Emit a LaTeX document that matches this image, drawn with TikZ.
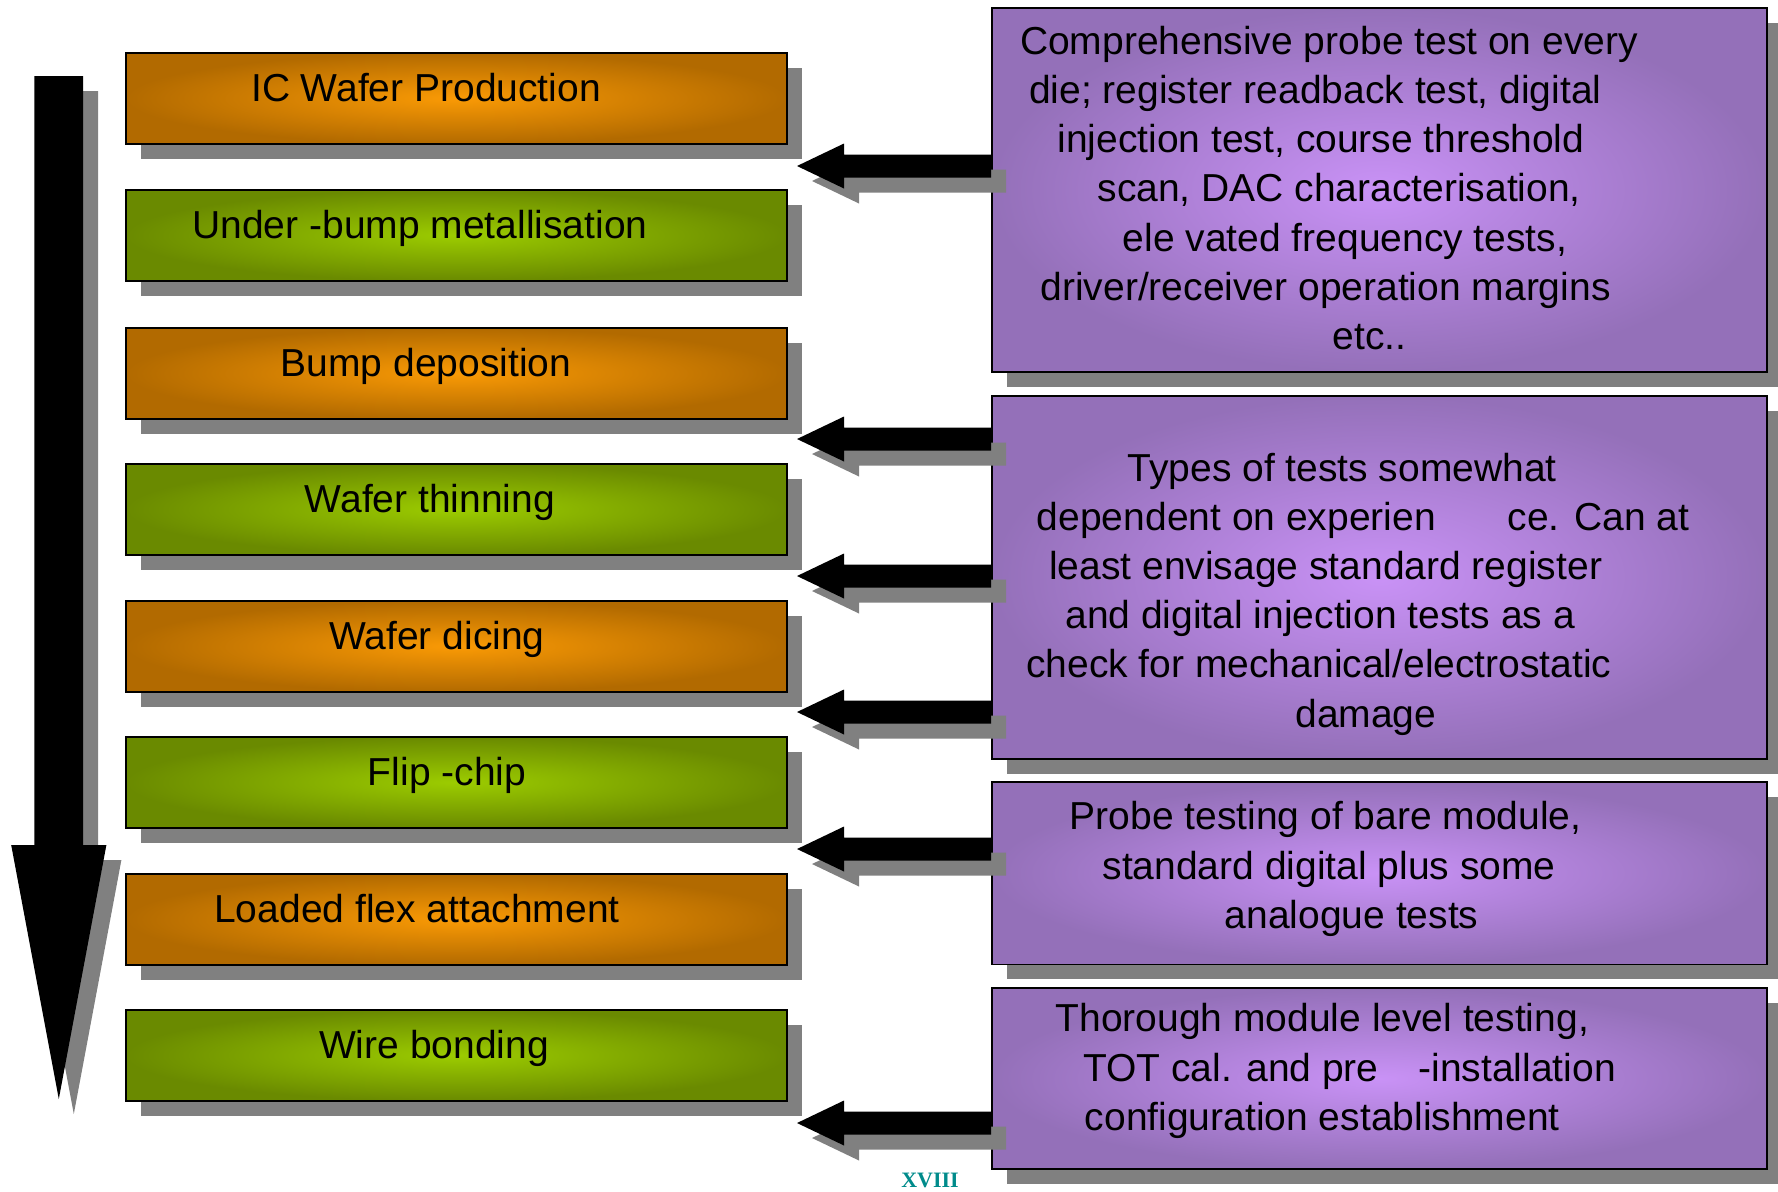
\documentclass[tikz,border=0pt]{standalone}
\usepackage{fontspec}
\setmainfont{Liberation Sans}
\newfontfamily\romanfont{Liberation Serif}
\usetikzlibrary{calc,shadows}
\definecolor{orEdge}{HTML}{B26A00}
\definecolor{orMid}{HTML}{FA9A05}
\definecolor{grEdge}{HTML}{6A8A00}
\definecolor{grMid}{HTML}{9CCC00}
\definecolor{puEdge}{HTML}{9470B9}
\definecolor{puMid}{HTML}{C992F6}
\definecolor{shadowgray}{HTML}{808080}
\definecolor{tealnum}{HTML}{008B8B}
\tikzset{
  boxshadow/.style={drop shadow={shadow xshift=7.5pt, shadow yshift=-7.5pt, fill=shadowgray, opacity=1}},
  stepbox/.style={draw=black, line width=0.75pt, minimum width=330.5pt, minimum height=45.5pt,
    inner sep=0pt, anchor=north west, boxshadow},
  orangebox/.style={stepbox, shading=radial, inner color=orMid, outer color=orEdge},
  greenbox/.style={stepbox, shading=radial, inner color=grMid, outer color=grEdge},
  testbox/.style={draw=black, line width=0.75pt, minimum width=387.5pt, inner sep=0pt,
    anchor=north west, boxshadow, shading=radial, inner color=puMid, outer color=puEdge},
  steptext/.style={font=\fontsize{19.5pt}{24.6pt}\selectfont, inner sep=0pt, anchor=base},
  testtext/.style={font=\fontsize{19.5pt}{24.6pt}\selectfont, inner sep=0pt, align=center},
  arrowbody/.style={fill=black},
  arrowshadow/.style={fill=shadowgray, transform canvas={shift={(7.5pt,-7.5pt)}}},
  pagenum/.style={font=\romanfont\bfseries\fontsize{11pt}{12pt}\selectfont, text=tealnum, inner sep=0pt}
}
% block arrow pointing left: #1 = start (at the box), #2 = tip
\newcommand\blockarr[2]{%
  \fill[arrowshadow] let \p1=(#1), \p2=(#2) in
    (\x1,\y1+5.75pt) -- (\x2+23.5pt,\y1+5.75pt) -- (\x2+23.5pt,\y2+11.25pt) -- (\x2,\y2)
    -- (\x2+23.5pt,\y2-11.25pt) -- (\x2+23.5pt,\y1-5.75pt) -- (\x1,\y1-5.75pt) -- cycle;
  \fill[arrowbody] let \p1=(#1), \p2=(#2) in
    (\x1,\y1+5.75pt) -- (\x2+23.5pt,\y1+5.75pt) -- (\x2+23.5pt,\y2+11.25pt) -- (\x2,\y2)
    -- (\x2+23.5pt,\y2-11.25pt) -- (\x2+23.5pt,\y1-5.75pt) -- (\x1,\y1-5.75pt) -- cycle;
}
% big downward arrow: #1 = top, #2 = tip
\newcommand\bigdownarr[2]{%
  \fill[arrowshadow] let \p1=(#1), \p2=(#2) in
    (\x1-12.2pt,\y1) -- (\x1+12.2pt,\y1) -- (\x1+12.2pt,\y2+127pt) -- (\x1+23.8pt,\y2+127pt)
    -- (\x2,\y2) -- (\x1-23.8pt,\y2+127pt) -- (\x1-12.2pt,\y2+127pt) -- cycle;
  \fill[arrowbody] let \p1=(#1), \p2=(#2) in
    (\x1-12.2pt,\y1) -- (\x1+12.2pt,\y1) -- (\x1+12.2pt,\y2+127pt) -- (\x1+23.8pt,\y2+127pt)
    -- (\x2,\y2) -- (\x1-23.8pt,\y2+127pt) -- (\x1-12.2pt,\y2+127pt) -- cycle;
}
\begin{document}
\begin{tikzpicture}[x=0.5pt,y=-0.5pt]
\useasboundingbox (0,0) rectangle (1778,1191);
% process steps
\node[orangebox] (b1) at (125,52) {};
\node[greenbox]  (b2) at (125,189) {};
\node[orangebox] (b3) at (125,327) {};
\node[greenbox]  (b4) at (125,463) {};
\node[orangebox] (b5) at (125,600) {};
\node[greenbox]  (b6) at (125,736) {};
\node[orangebox] (b7) at (125,873) {};
\node[greenbox]  (b8) at (125,1009) {};
\node[steptext] (l1) at (426,101) {IC Wafer Production};
\node[steptext] (l2) at (420,238) {Under -bump metallisation};
\node[steptext] (l3) at (426,376) {Bump deposition};
\node[steptext] (l4) at (430,512) {Wafer thinning};
\node[steptext] (l5) at (437,649) {Wafer dicing};
\node[steptext] (l6) at (447,785) {Flip -chip};
\node[steptext] (l7) at (417,922) {Loaded flex attachment};
\node[steptext] (l8) at (434,1058) {Wire bonding};
% test boxes
\node[testbox, minimum height=182pt]   (p1) at (991,7) {};
\node[testbox, minimum height=181.5pt] (p2) at (991,395) {};
\node[testbox, minimum height=91.3pt]  (p3) at (991,781) {};
\node[testbox, minimum height=90.7pt]  (p4) at (991,987) {};
\node[testtext] (q1) at (1329,188) {Comprehensive probe test on every\\
  \hspace*{-13.6pt}die; register readback test, digital\\
  \hspace*{-8pt}injection test, course threshold\\
  \hspace*{10.2pt}scan, DAC characterisation,\\
  \hspace*{16pt}ele vated frequency tests,\\
  \hspace*{-3.4pt}driver/receiver operation margins\\
  \hspace*{40.8pt}etc..};
\node[testtext] (q2) at (1332.5,594) {\hspace*{9.6pt}Types of tests somewhat\\
  \hspace*{30.6pt}dependent on experien\hspace{36pt}ce. Can at\\
  \hspace*{-6.8pt}least envisage standard register\\
  \hspace*{-12.4pt}and digital injection tests as a\\
  \hspace*{-13.6pt}check for mechanical/electrostatic\\
  \hspace*{33.4pt}damage};
\node[testtext] (q3) at (1332.5,869) {\hspace*{-6.8pt}Probe testing of bare module,\\
  \hspace*{-3.4pt}standard digital plus some\\
  \hspace*{19.2pt}analogue tests};
\node[testtext] (q4) at (1332.5,1071) {\hspace*{-10.2pt}Thorough module level testing,\\
  \hspace*{17pt}TOT cal. and pre\hspace{20pt}-installation\\
  \hspace*{-10.2pt}configuration establishment};
% arrows from tests to stages
\coordinate (a1) at (797,166);
\coordinate (a2) at (797,439);
\coordinate (a3) at (797,576);
\coordinate (a4) at (797,712);
\coordinate (a5) at (797,849);
\coordinate (a6) at (797,1123);
\blockarr{p1.west |- a1}{a1}
\blockarr{p2.west |- a2}{a2}
\blockarr{p2.west |- a3}{a3}
\blockarr{p2.west |- a4}{a4}
\blockarr{p3.west |- a5}{a5}
\blockarr{p4.west |- a6}{a6}
% process flow arrow
\coordinate (bigtop) at (58.8,76);
\coordinate (bigtip) at (58.8,1099);
\bigdownarr{bigtop}{bigtip}
% page number
\node[pagenum] (num) at (930,1180) {XVIII};
\end{tikzpicture}
\end{document}
